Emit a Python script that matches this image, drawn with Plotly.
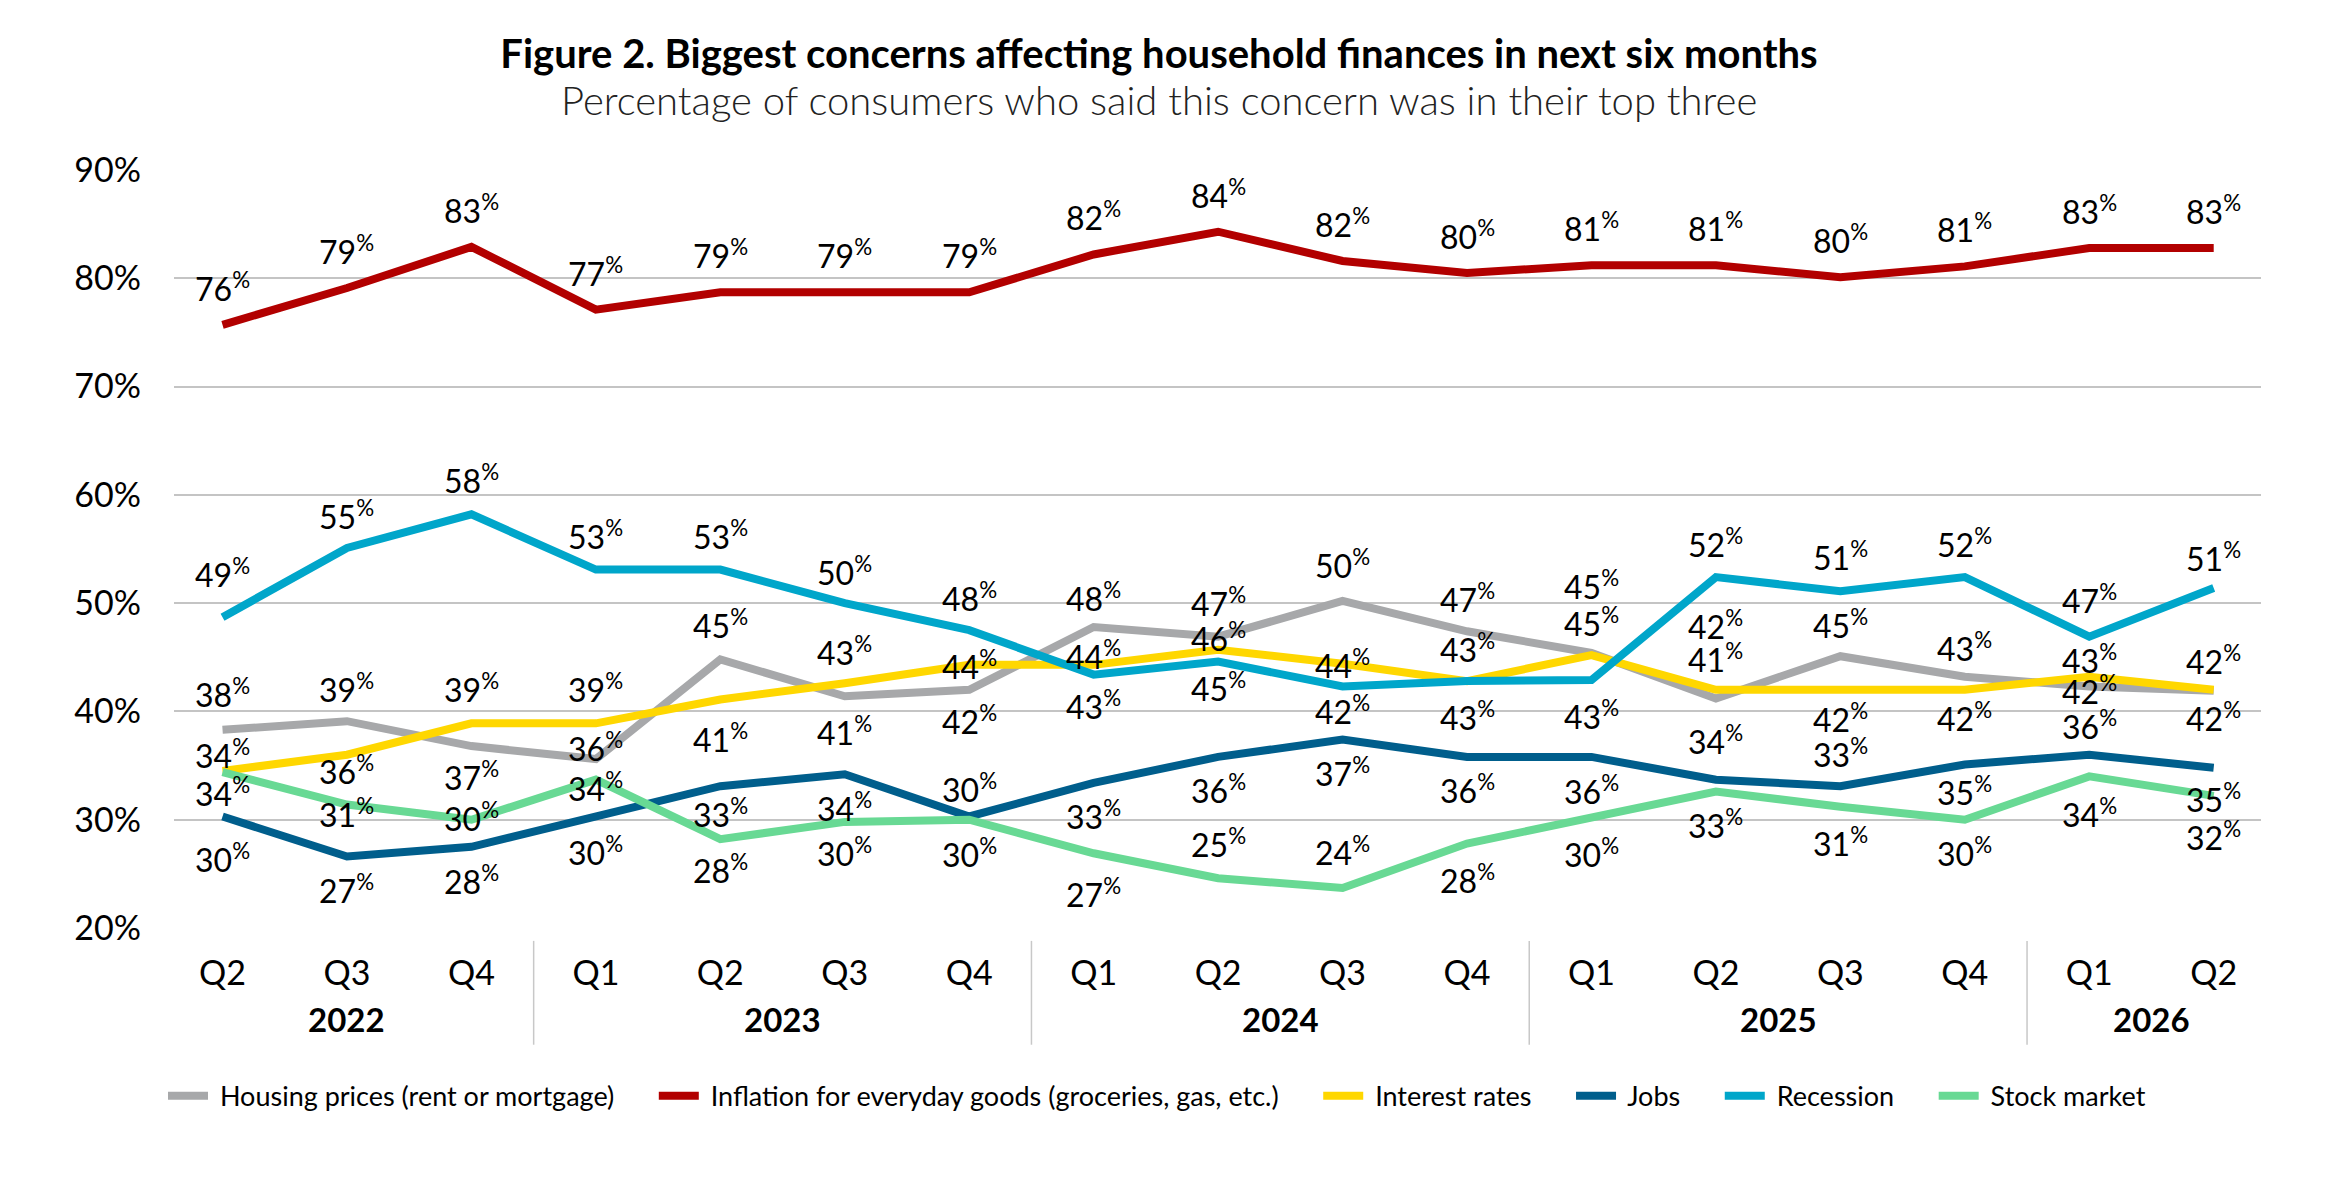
import plotly.graph_objects as go

# quarters along the x axis
quarters = ["Q2", "Q3", "Q4", "Q1", "Q2", "Q3", "Q4", "Q1", "Q2", "Q3", "Q4",
            "Q1", "Q2", "Q3", "Q4", "Q1", "Q2"]
years = ["2022", "2022", "2022", "2023", "2023", "2023", "2023", "2024", "2024",
         "2024", "2024", "2025", "2025", "2025", "2025", "2026", "2026"]

# share of consumers (%) naming each concern in their top three
housing = [38.3, 39.1, 36.8, 35.6, 44.8, 41.4, 42.0, 47.8, 46.9, 50.2, 47.4,
           45.4, 41.2, 45.1, 43.2, 42.3, 41.9]
inflation = [75.7, 79.1, 82.9, 77.1, 78.7, 78.7, 78.7, 82.2, 84.3, 81.6, 80.5,
             81.2, 81.2, 80.1, 81.1, 82.8, 82.8]
interest_rates = [34.5, 36.0, 38.9, 38.9, 41.1, 42.6, 44.3, 44.3, 45.7, 44.4, 42.8,
                  45.2, 42.0, 42.0, 42.0, 43.2, 42.0]
jobs = [30.3, 26.6, 27.5, 30.3, 33.1, 34.2, 30.3, 33.4, 35.8, 37.4, 35.8,
        35.8, 33.7, 33.1, 35.1, 36.0, 34.8]
recession = [48.7, 55.1, 58.2, 53.1, 53.1, 50.0, 47.5, 43.4, 44.6, 42.3, 42.8,
             42.9, 52.4, 51.1, 52.4, 46.9, 51.4]
stock_market = [34.4, 31.4, 30.0, 33.7, 28.2, 29.8, 30.0, 26.9, 24.6, 23.7, 27.8,
                30.2, 32.6, 31.2, 30.0, 34.0, 32.2]

series = [
    ("Housing prices (rent or mortgage)", housing, "#A7A8AA"),
    ("Inflation for everyday goods (groceries, gas, etc.)", inflation, "#B20000"),
    ("Interest rates", interest_rates, "#FFD700"),
    ("Jobs", jobs, "#005E8C"),
    ("Recession", recession, "#00A6CA"),
    ("Stock market", stock_market, "#68D994"),
]

# vertical pixel nudge of each value label (style, not data)
label_shift = {
    "Housing prices (rent or mortgage)": [37, 33, -30, 12, 35, -35, -30, 30, 35, 37, 33, 68, 40, 32, 30, -3, -26],
    "Inflation for everyday goods (groceries, gas, etc.)": [38] * 17,
    "Interest rates": [17, -15, 35, 35, -38, 32, 0, 10, 13, 0, 33, 33, 65, -28, -27, 18, 30],
    "Jobs": [-42, -32, -33, -35, -27, -33, 28, -32, -32, -32, -32, -33, 40, 33, -27, 30, -30],
    "Recession": [44, 33, 35, 35, 35, 32, 33, -30, -25, -23, -35, -35, 34, 35, 34, 38, 31],
    "Stock market": [-20, -8, 3, -7, -30, -30, -33, -40, 35, 37, -35, -35, -32, -35, -32, -37, -40],
}

FONT = "Lato"
xs = list(range(len(quarters)))

fig = go.Figure()
annotations = []
for name, vals, color in series:
    fig.add_trace(go.Scatter(x=xs, y=vals, name="\u00a0" + name + "\u00a0" * 5, mode="lines",
                             line=dict(color=color, width=8),
                             hoverinfo="skip"))
    for x, v, s in zip(xs, vals, label_shift[name]):
        annotations.append(dict(x=x, y=v, xref="x", yref="y",
                                text=f"{round(v)}<sup>%</sup>", showarrow=False,
                                yshift=s, font=dict(family=FONT, size=32, color="black")))

# year labels centred under their quarters, with dividers between years
shapes = []
year_order = []
for y in years:
    if y not in year_order:
        year_order.append(y)
for y in year_order:
    idx = [i for i, yy in enumerate(years) if yy == y]
    annotations.append(dict(x=sum(idx) / len(idx), y=-0.12, xref="x", yref="paper",
                            text=f"<b>{y}</b>", showarrow=False, yanchor="middle",
                            font=dict(family=FONT, size=33, color="black")))
    if idx[-1] < len(years) - 1:
        shapes.append(dict(type="line", xref="x", yref="paper",
                           x0=idx[-1] + 0.5, x1=idx[-1] + 0.5, y0=-0.017, y1=-0.154,
                           line=dict(color="#C8C8C8", width=1.5)))

annotations.append(dict(x=(1151 - 166) / 2087, y=(920 - 92) / 758, xref="paper", yref="paper",
                        text="Percentage of consumers who said this concern was in their top three",
                        showarrow=False, yanchor="middle", xanchor="center",
                        font=dict(family=FONT, size=40, color="#222222", weight=300)))

fig.update_layout(
    width=2326, height=1178,
    margin=dict(l=166, r=73, t=162, b=258),
    plot_bgcolor="white", paper_bgcolor="white",
    title=dict(text="<b>Figure 2. Biggest concerns affecting household finances in next six months</b>",
               x=1151 / 2326, xanchor="center", y=1 - 46 / 1178, yanchor="middle",
               font=dict(family=FONT, size=40, color="black")),
    xaxis=dict(range=[-0.39, 16.38], tickmode="array", tickvals=xs, ticktext=quarters,
               showgrid=False, zeroline=False, showline=False, ticks="",
               ticklabelstandoff=22,
               tickfont=dict(family=FONT, size=34, color="black")),
    yaxis=dict(range=[20, 90], dtick=10, ticksuffix="%", showgrid=True,
               gridcolor="#C4C4C4", gridwidth=2, zeroline=False, showline=False,
               ticklabelstandoff=32,
               tickfont=dict(family=FONT, size=34, color="black")),
    legend=dict(orientation="h", x=(1166 - 166) / 2087, xanchor="center",
                y=-0.222, yanchor="middle", font=dict(family=FONT, size=27, color="black"),
                itemwidth=40),
    annotations=annotations,
    shapes=shapes,
    showlegend=True,
)

fig.write_html("out.html")
